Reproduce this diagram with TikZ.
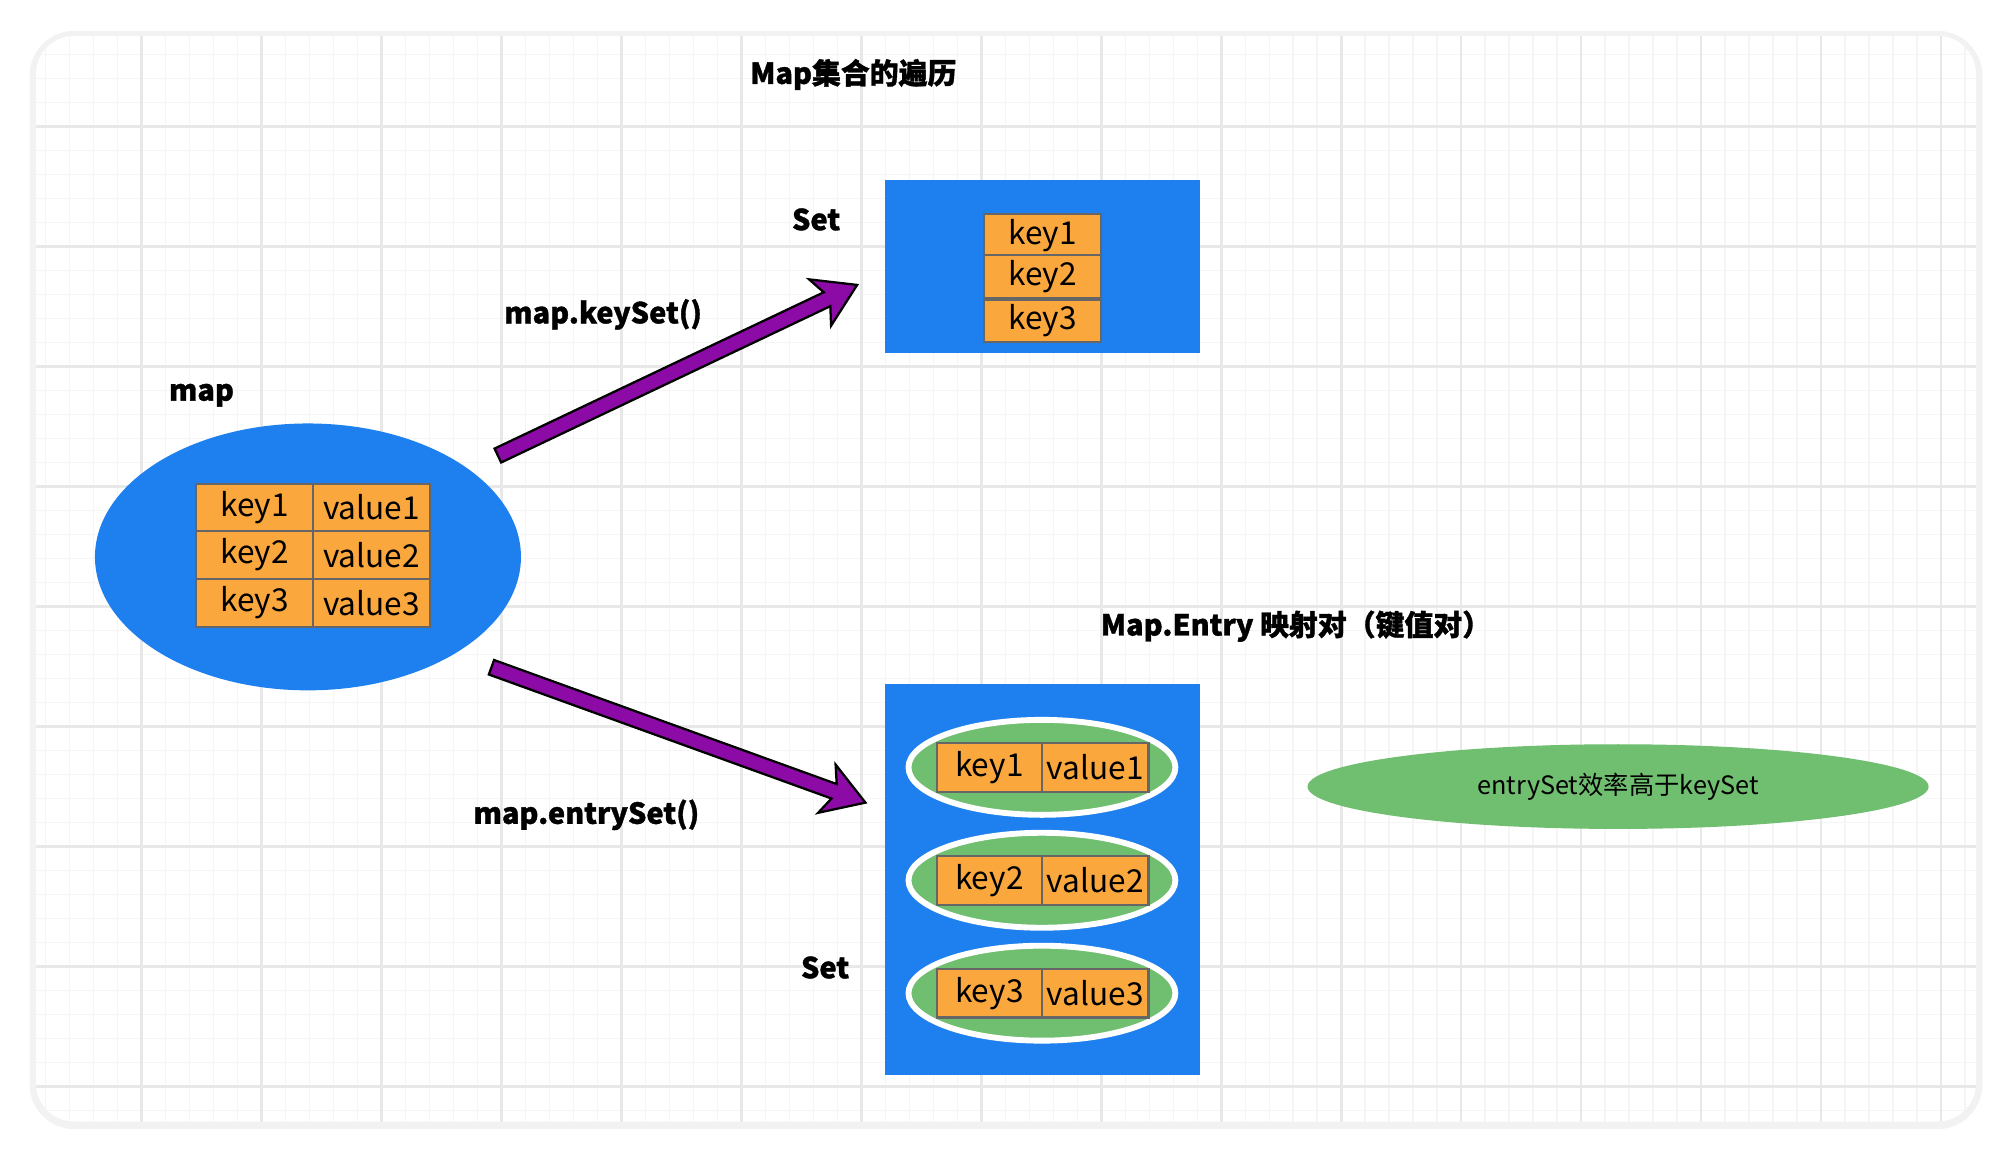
\documentclass[tikz,border=0pt]{standalone}
\usepackage{fontspec}
\setmainfont{Noto Sans CJK SC}
\newfontfamily\lblfont{Noto Sans CJK SC}[FakeBold=1.2]
\usetikzlibrary{shapes.geometric,calc}
\definecolor{setblue}{RGB}{30,128,238}
\definecolor{cellorange}{RGB}{250,167,62}
\definecolor{entrygreen}{RGB}{112,190,112}
\definecolor{arrowpurple}{RGB}{140,10,165}
\definecolor{gridmajor}{RGB}{232,232,232}
\definecolor{gridminor}{RGB}{245,245,245}
\begin{document}
\begin{tikzpicture}[x=0.01cm,y=-0.01cm,
    lbl/.style={font=\lblfont\bfseries\fontsize{6.4}{8}\selectfont},
    cell/.style={draw=black!60,fill=cellorange,line width=0.5pt,inner sep=0pt,
        font=\fontsize{7}{8}\selectfont},
    fat/.style={fill=arrowpurple,draw=black,line width=0.5pt,line join=miter}]
  \useasboundingbox (0,0) rectangle (1568,902);
  % card with shadow
  \fill[black!5,rounded corners=10pt] (23,24) rectangle (1545,880);
  \fill[white,rounded corners=8.5pt] (28,28) rectangle (1540,874);
  \begin{scope}
    \clip[rounded corners=8.5pt] (28,28) rectangle (1540,874);
    \foreach \i in {0,...,90} {
      \draw[gridminor,line width=0.3pt] ({16.7+\i*18.7},28) -- ({16.7+\i*18.7},874);
    }
    \foreach \i in {0,...,50} {
      \draw[gridminor,line width=0.3pt] (28,{5+\i*18.7}) -- (1540,{5+\i*18.7});
    }
    \foreach \i in {0,...,17} {
      \draw[gridmajor,line width=0.6pt] ({16.7+\i*93.5},28) -- ({16.7+\i*93.5},874);
    }
    \foreach \i in {0,...,10} {
      \draw[gridmajor,line width=0.6pt] (28,{5+\i*93.5}) -- (1540,{5+\i*93.5});
    }
  \end{scope}

  % title and labels
  \node[lbl] (title) at (665,58) {Map集合的遍历};
  \node[lbl] (maplbl) at (157,308) {map};
  \node[lbl] (set1) at (636,171) {Set};
  \node[lbl] (set2) at (643,754) {Set};
  \node[lbl] (ks) at (470,245) {map.keySet()};
  \node[lbl] (es) at (457,635) {map.entrySet()};
  \node[lbl] (entry) at (1010,488) {Map.Entry 映射对（键值对）};

  % map ellipse with table
  \node[ellipse,fill=setblue,minimum width=332*0.01cm,minimum height=208*0.01cm] (map) at (240,434) {};
  \foreach \r/\y in {1/395.5,2/432.5,3/470} {
    \node[cell,minimum width=91*0.01cm,minimum height=37*0.01cm] (mk\r) at (198.5,\y) {key\r};
    \node[cell,minimum width=91*0.01cm,minimum height=37*0.01cm] (mv\r) at (289.5,\y) {value\r};
  }

  % keySet box
  \fill[setblue] (690,140) rectangle (935,275);
  \foreach \r/\y in {1/183.5,2/215.5,3/250} {
    \node[cell,minimum width=91*0.01cm,minimum height=33*0.01cm] (k\r) at (812.5,\y) {key\r};
  }

  % entrySet box
  \fill[setblue] (690,533) rectangle (935,838);
  \foreach \r/\y in {1/598,2/686,3/774} {
    \node[ellipse,fill=entrygreen,draw=white,line width=1.3pt,
      minimum width=208*0.01cm,minimum height=74*0.01cm] (e\r) at (812,\y) {};
    \node[cell,minimum width=82*0.01cm,minimum height=38*0.01cm] (ek\r) at (771,\y) {key\r};
    \node[cell,minimum width=83*0.01cm,minimum height=38*0.01cm] (ev\r) at (853.5,\y) {value\r};
  }

  % note
  \node[ellipse,fill=entrygreen,minimum width=484*0.01cm,minimum height=66*0.01cm,
    font=\fontsize{5.6}{7}\selectfont] (note) at (1261,613) {entrySet效率高于keySet};

  % fat arrows
  \coordinate (a1s) at (388,355);
  \coordinate (a2s) at (383,520);
  \begin{scope}[shift={(a1s)},rotate=25.4]
    \draw[fat] (0,-6) -- (284,-6) -- (278,-20) -- (310,0) -- (278,20) -- (284,6) -- (0,6) -- cycle;
  \end{scope}
  \begin{scope}[shift={(a2s)},rotate=-19.9]
    \draw[fat] (0,-6) -- (284,-6) -- (278,-20) -- (310,0) -- (278,20) -- (284,6) -- (0,6) -- cycle;
  \end{scope}
\end{tikzpicture}
\end{document}
